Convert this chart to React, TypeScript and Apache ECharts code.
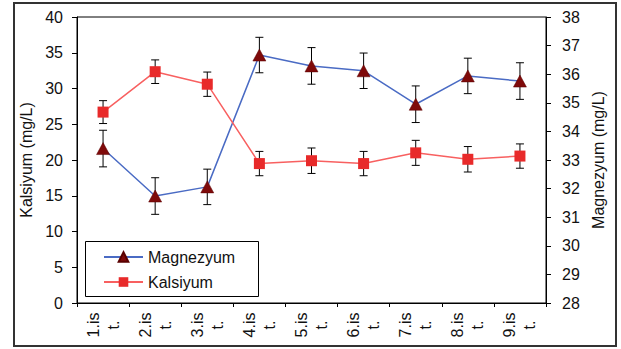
import React, { useEffect, useRef } from "react";
import * as echarts from "echarts";

// Sampling points
const categories = ["1.is\nt.", "2.is\nt.", "3.is\nt.", "4.is\nt.", "5.is\nt.", "6.is\nt.", "7.is\nt.", "8.is\nt.", "9.is\nt."];

// Magnezyum (mg/L), right axis, with standard deviation
const magnezyum = [33.4, 31.74, 32.06, 36.67, 36.29, 36.12, 34.95, 35.94, 35.76];
const magnezyumErr = [0.64, 0.64, 0.62, 0.62, 0.64, 0.62, 0.64, 0.62, 0.64];

// Kalsiyum (mg/L), left axis, with standard deviation
const kalsiyum = [26.7, 32.35, 30.6, 19.5, 19.9, 19.5, 21.0, 20.1, 20.55];
const kalsiyumErr = [1.6, 1.65, 1.7, 1.7, 1.78, 1.7, 1.75, 1.78, 1.7];

const FONT = "Liberation Sans, Arial, sans-serif";
const TEXT = "#111";

function errorBars(values: number[], errs: number[]) {
  return values.map((v, i) => [i, v - errs[i], v + errs[i]]);
}

function renderErrorBar(_params: any, api: any) {
  const lo = api.coord([api.value(0), api.value(1)]);
  const hi = api.coord([api.value(0), api.value(2)]);
  const half = 4;
  const style = { stroke: "#000", lineWidth: 1 };
  return {
    type: "group",
    children: [
      { type: "line", shape: { x1: lo[0], y1: lo[1], x2: hi[0], y2: hi[1] }, style },
      { type: "line", shape: { x1: lo[0] - half, y1: lo[1], x2: lo[0] + half, y2: lo[1] }, style },
      { type: "line", shape: { x1: hi[0] - half, y1: hi[1], x2: hi[0] + half, y2: hi[1] }, style },
    ],
  };
}

export default function App() {
  const ref = useRef<HTMLDivElement>(null);

  useEffect(() => {
    document.body.style.margin = "0";
    const chart = echarts.init(ref.current!, null, { renderer: "svg" });
    chart.setOption({
      animation: false,
      backgroundColor: "#fff",
      textStyle: { fontFamily: FONT, color: TEXT },
      grid: {
        left: 77,
        right: 75,
        top: 17,
        bottom: 46,
        show: true,
        borderColor: "#000",
        borderWidth: 1,
      },
      graphic: [
        {
          type: "rect",
          shape: { x: 14, y: 3, width: 602, height: 343 },
          style: { fill: "none", stroke: "#333", lineWidth: 2 },
          z: 100,
        },
        {
          type: "rect",
          shape: { x: 85.5, y: 241.5, width: 173, height: 55 },
          style: { fill: "#fff", stroke: "#000", lineWidth: 1 },
          z: 5,
        },
      ],
      legend: {
        data: ["Magnezyum", "Kalsiyum"],
        orient: "vertical",
        left: 103,
        top: 249,
        padding: 0,
        itemWidth: 39,
        itemHeight: 12,
        itemGap: 9,
        z: 10,
        textStyle: { fontFamily: FONT, fontSize: 16, color: TEXT },
      },
      xAxis: {
        type: "category",
        data: categories,
        boundaryGap: true,
        axisLine: { lineStyle: { color: "#000", width: 1 } },
        axisTick: { show: true, length: 4, lineStyle: { color: "#000" } },
        axisLabel: {
          interval: 0,
          rotate: 90,
          align: "center",
          verticalAlign: "middle",
          lineHeight: 20,
          margin: 22,
          fontSize: 16,
          fontFamily: FONT,
          color: TEXT,
        },
        splitLine: { show: false },
      },
      yAxis: [
        {
          type: "value",
          min: 0,
          max: 40,
          interval: 5,
          name: "Kalsiyum (mg/L)",
          nameLocation: "middle",
          nameGap: 36,
          nameTextStyle: { fontSize: 16, fontFamily: FONT, color: TEXT },
          axisLine: { show: true, lineStyle: { color: "#000" } },
          axisTick: { show: true, length: 5, lineStyle: { color: "#000" } },
          axisLabel: { margin: 14, fontSize: 16, fontFamily: FONT, color: TEXT },
          splitLine: { show: false },
        },
        {
          type: "value",
          position: "right",
          min: 28,
          max: 38,
          interval: 1,
          name: "Magnezyum (mg/L)",
          nameLocation: "middle",
          nameGap: 38,
          nameTextStyle: { fontSize: 16, fontFamily: FONT, color: TEXT },
          axisLine: { show: true, lineStyle: { color: "#000" } },
          axisTick: { show: true, length: 5, lineStyle: { color: "#000" } },
          axisLabel: { margin: 16, fontSize: 16, fontFamily: FONT, color: TEXT },
          splitLine: { show: false },
        },
      ],
      series: [
        {
          type: "custom",
          name: "Magnezyum SD",
          yAxisIndex: 1,
          data: errorBars(magnezyum, magnezyumErr),
          encode: { x: 0, y: [1, 2] },
          renderItem: renderErrorBar,
          z: 1,
        },
        {
          type: "custom",
          name: "Kalsiyum SD",
          yAxisIndex: 0,
          data: errorBars(kalsiyum, kalsiyumErr),
          encode: { x: 0, y: [1, 2] },
          renderItem: renderErrorBar,
          z: 1,
        },
        {
          type: "line",
          name: "Magnezyum",
          yAxisIndex: 1,
          data: magnezyum,
          symbol: "triangle",
          symbolSize: [13, 12],
          lineStyle: { color: "#4a6bc4", width: 1.5 },
          itemStyle: { color: "#7f0a0a", borderColor: "#5a0000", borderWidth: 0.5 },
          z: 2,
        },
        {
          type: "line",
          name: "Kalsiyum",
          yAxisIndex: 0,
          data: kalsiyum,
          symbol: "rect",
          symbolSize: 11,
          lineStyle: { color: "#f86060", width: 1.5 },
          itemStyle: { color: "#e82a2a", borderColor: "#e82a2a", borderWidth: 0 },
          z: 2,
        },
      ],
    });
    return () => chart.dispose();
  }, []);

  return <div ref={ref} style={{ width: 621, height: 349 }} />;
}
